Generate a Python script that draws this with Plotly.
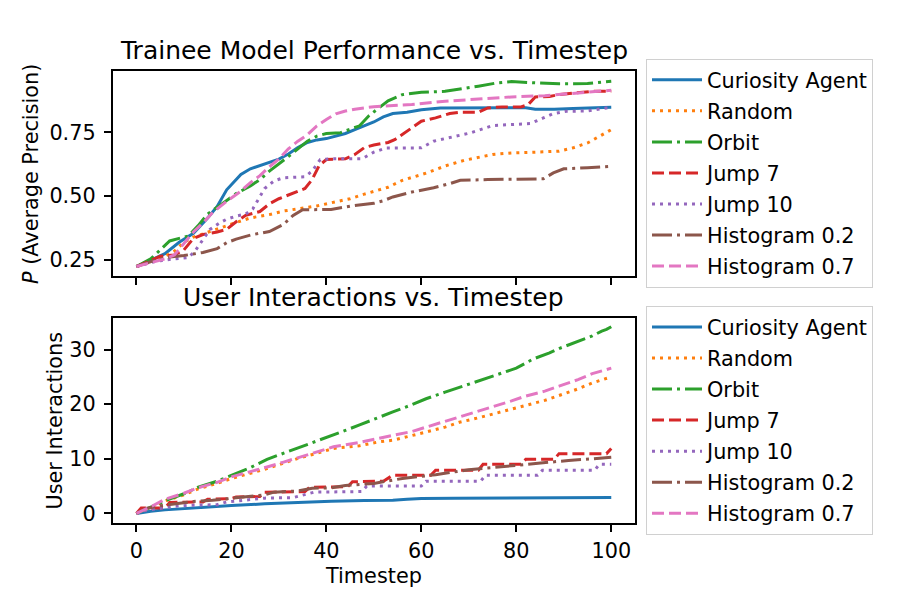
import plotly.graph_objects as go

FONT = "DejaVu Sans"

# ---------------- data ----------------
series_names = ["Curiosity Agent", "Random", "Orbit", "Jump 7", "Jump 10",
                "Histogram 0.2", "Histogram 0.7"]
x_ticks = [0, 20, 40, 60, 80, 100]
prec_ticks = [0.25, 0.50, 0.75]
inter_ticks = [0, 10, 20, 30]

# --- top panel: P (Average Precision) vs timestep ---
prec_curiosity_t = [0, 3, 6, 9, 12, 15, 17, 19, 21, 22, 24, 26, 28, 30, 32, 34, 36, 38, 40, 42, 44, 46, 48, 50, 52, 54, 57, 60, 64, 70, 82, 84, 88, 92, 96, 100]
prec_curiosity_v = [0.225, 0.25, 0.275, 0.32, 0.355, 0.415, 0.46, 0.525, 0.565, 0.585, 0.607, 0.62, 0.63, 0.645, 0.665, 0.69, 0.71, 0.72, 0.725, 0.735, 0.745, 0.76, 0.775, 0.79, 0.81, 0.823, 0.828, 0.838, 0.845, 0.846, 0.846, 0.84, 0.84, 0.843, 0.845, 0.848]

prec_random_t = [0, 3, 6, 8, 10, 12, 15, 18, 21, 24, 28, 31, 35, 38, 42, 45, 48, 51, 53, 56, 61, 65, 69, 75, 79, 84, 89, 92, 95, 97.5, 100]
prec_random_v = [0.225, 0.245, 0.265, 0.285, 0.32, 0.34, 0.36, 0.38, 0.397, 0.415, 0.428, 0.442, 0.452, 0.462, 0.478, 0.49, 0.508, 0.525, 0.535, 0.562, 0.59, 0.618, 0.64, 0.663, 0.669, 0.672, 0.676, 0.689, 0.708, 0.734, 0.76]

prec_orbit_t = [0, 3, 5, 7, 9, 11, 13, 15, 18, 21, 24, 26, 28, 30, 32, 34, 36, 38, 40, 43, 45, 47, 49, 51, 53, 56, 60, 65, 68, 72, 76, 79, 84, 89, 95, 100]
prec_orbit_v = [0.225, 0.255, 0.29, 0.325, 0.335, 0.345, 0.385, 0.43, 0.47, 0.51, 0.54, 0.565, 0.598, 0.625, 0.655, 0.685, 0.715, 0.735, 0.745, 0.748, 0.76, 0.775, 0.815, 0.845, 0.873, 0.897, 0.906, 0.91, 0.918, 0.93, 0.943, 0.948, 0.943, 0.939, 0.94, 0.949]

prec_jump7_t = [0, 3, 5, 8, 10, 12, 14, 17, 19, 21, 23, 26, 28, 30, 32, 34, 35.5, 37, 38.5, 40, 44, 46, 48, 50, 53, 54.5, 56.5, 60, 63, 66, 68, 72, 74, 77, 81, 82.5, 84, 87, 89, 93, 96, 100]
prec_jump7_v = [0.225, 0.25, 0.265, 0.27, 0.29, 0.335, 0.35, 0.36, 0.37, 0.4, 0.425, 0.44, 0.47, 0.49, 0.505, 0.52, 0.53, 0.565, 0.62, 0.643, 0.646, 0.663, 0.69, 0.7, 0.71, 0.722, 0.747, 0.793, 0.806, 0.823, 0.828, 0.828, 0.845, 0.849, 0.849, 0.858, 0.888, 0.89, 0.897, 0.906, 0.91, 0.91]

prec_jump10_t = [0, 4, 8, 11, 12.5, 14, 15.5, 17.5, 19, 21, 23, 24.5, 25.5, 27, 29, 31, 35.5, 37, 38.7, 41, 47.5, 50, 52.5, 60, 62.6, 66.8, 70.3, 75, 79.4, 83, 85.7, 87.8, 90.6, 95, 99, 100]
prec_jump10_v = [0.225, 0.245, 0.255, 0.26, 0.29, 0.33, 0.37, 0.395, 0.41, 0.422, 0.43, 0.45, 0.48, 0.53, 0.56, 0.572, 0.576, 0.598, 0.643, 0.646, 0.646, 0.672, 0.688, 0.689, 0.715, 0.734, 0.747, 0.776, 0.78, 0.784, 0.806, 0.823, 0.832, 0.833, 0.845, 0.845]

prec_hist02_t = [0, 4, 7, 10, 14, 17, 19, 21, 24, 28, 31, 33, 35, 41, 45, 50, 52, 54, 58, 62.6, 66, 68.2, 74, 85.7, 87.8, 90, 95, 100]
prec_hist02_v = [0.225, 0.25, 0.262, 0.268, 0.28, 0.295, 0.318, 0.332, 0.348, 0.362, 0.39, 0.425, 0.447, 0.448, 0.461, 0.472, 0.482, 0.497, 0.516, 0.533, 0.549, 0.562, 0.565, 0.568, 0.591, 0.607, 0.611, 0.617]

prec_hist07_t = [0, 3, 6, 8, 10, 12, 14, 16, 19, 22, 24, 26, 28, 30, 32, 34, 36, 38, 40, 42, 44, 46, 50, 54, 58, 65, 72, 79, 86, 93, 100]
prec_hist07_v = [0.225, 0.24, 0.255, 0.27, 0.315, 0.36, 0.395, 0.435, 0.48, 0.52, 0.553, 0.58, 0.615, 0.645, 0.685, 0.715, 0.74, 0.775, 0.8, 0.822, 0.833, 0.84, 0.85, 0.855, 0.858, 0.871, 0.88, 0.888, 0.893, 0.904, 0.914]

# --- bottom panel: user interactions vs timestep ---
inter_curiosity_t = [0, 3, 6, 10, 13, 20, 27, 34, 41, 48, 54, 57, 60, 67, 77, 100]
inter_curiosity_v = [0, 0.4, 0.65, 0.9, 1.1, 1.45, 1.75, 2.05, 2.25, 2.35, 2.4, 2.6, 2.75, 2.78, 2.85, 2.9]

inter_random_t = [0, 3, 6, 10, 13, 17, 20, 24, 27.5, 31, 34.5, 38, 41.5, 47, 51, 54, 58, 61, 65, 68, 72, 75, 79, 82, 86, 89, 93, 96, 100]
inter_random_v = [0, 1.0, 2.3, 3.4, 4.5, 5.5, 6.4, 7.3, 8.2, 9.2, 10.2, 11.0, 11.9, 12.4, 13.1, 13.4, 14.2, 14.9, 15.8, 16.7, 17.5, 18.2, 19.0, 19.8, 20.7, 21.6, 22.8, 23.9, 25.0]

inter_orbit_t = [0, 3, 6, 10, 13, 17, 20, 24, 27.5, 31, 34.5, 38, 41.5, 44, 47, 51, 54, 58, 61, 65, 68, 72, 75, 78, 80, 83.6, 87, 89, 93, 96, 98, 99, 100]
inter_orbit_v = [0, 1.2, 2.3, 3.6, 4.8, 5.9, 7.0, 8.4, 9.9, 11.0, 12.2, 13.2, 14.3, 15.2, 16.2, 17.6, 18.6, 19.9, 21.0, 22.2, 23.1, 24.2, 25.1, 26.0, 26.6, 28.3, 29.4, 30.2, 31.5, 32.5, 33.4, 33.7, 34.2]

inter_jump7_t = [0, 1, 6, 7, 14, 15, 20, 21, 26, 27, 35.5, 36.5, 44.5, 45.5, 52, 53, 54, 62, 63, 72, 73, 81, 82, 88, 89, 99, 100]
inter_jump7_v = [0, 1.0, 1.0, 2.0, 2.1, 2.6, 2.7, 3.0, 3.1, 3.9, 4.0, 4.8, 4.9, 5.8, 5.9, 6.5, 7.0, 7.0, 7.9, 7.9, 9.0, 9.0, 9.9, 9.9, 10.95, 10.95, 11.9]

inter_jump10_t = [0, 2, 5, 8, 12, 17, 19, 24, 27, 33, 35, 37.5, 47.5, 48.5, 60, 61, 72.5, 73.5, 84.5, 85.5, 96.5, 97.5, 100]
inter_jump10_v = [0, 0.6, 0.9, 1.3, 1.5, 1.6, 2.1, 2.6, 2.8, 2.9, 3.4, 3.9, 4.0, 5.0, 5.0, 5.9, 5.9, 7.0, 7.0, 7.9, 7.9, 9.0, 9.0]

inter_hist02_t = [0, 2, 5, 8, 12, 16, 20, 24, 27, 29, 34, 37, 41, 44, 48, 50, 56, 63, 70, 77, 84, 91, 96, 100]
inter_hist02_v = [0, 0.9, 1.4, 1.8, 2.2, 2.4, 2.8, 3.1, 3.4, 3.9, 4.1, 4.6, 4.7, 5.1, 5.3, 5.5, 6.4, 7.1, 8.0, 8.6, 9.2, 9.7, 10.0, 10.3]

inter_hist07_t = [0, 3, 6, 10, 13, 17, 20, 24, 27.5, 31, 34.5, 38, 41.5, 47, 51, 54, 58, 61, 65, 68, 72, 75, 79, 82, 86, 89, 93, 96, 100]
inter_hist07_v = [0, 1.2, 2.6, 3.7, 4.7, 5.7, 6.7, 7.6, 8.5, 9.4, 10.3, 11.2, 12.2, 13.0, 13.8, 14.3, 15.0, 15.8, 16.8, 17.7, 18.7, 19.5, 20.6, 21.5, 22.4, 23.3, 24.5, 25.6, 26.6]

# ---------------- styling ----------------
colors = ["#1f77b4", "#ff7f0e", "#2ca02c", "#d62728", "#9467bd", "#8c564b", "#e377c2"]
DOT = "3px,5px"
DASH = "12px,5px"
DASHDOT = "20px,5px,3px,5px"
dashes = ["solid", DOT, DASHDOT, DASH, DOT, DASHDOT, DASH]
LW = 3

top_data = [(prec_curiosity_t, prec_curiosity_v), (prec_random_t, prec_random_v),
            (prec_orbit_t, prec_orbit_v), (prec_jump7_t, prec_jump7_v),
            (prec_jump10_t, prec_jump10_v), (prec_hist02_t, prec_hist02_v),
            (prec_hist07_t, prec_hist07_v)]
bot_data = [(inter_curiosity_t, inter_curiosity_v), (inter_random_t, inter_random_v),
            (inter_orbit_t, inter_orbit_v), (inter_jump7_t, inter_jump7_v),
            (inter_jump10_t, inter_jump10_v), (inter_hist02_t, inter_hist02_v),
            (inter_hist07_t, inter_hist07_v)]

fig = go.Figure()
for i, (t, v) in enumerate(top_data):
    fig.add_trace(go.Scatter(x=t, y=v, mode="lines", name=series_names[i],
                             line=dict(color=colors[i], width=LW, dash=dashes[i]),
                             legendgroup="top%d" % i,
                             xaxis="x", yaxis="y", legend="legend"))
for i, (t, v) in enumerate(bot_data):
    fig.add_trace(go.Scatter(x=t, y=v, mode="lines", name=series_names[i],
                             line=dict(color=colors[i], width=LW, dash=dashes[i]),
                             legendgroup="bot%d" % i,
                             xaxis="x2", yaxis="y2", legend="legend2"))

W, H = 900, 600
L, R = 112.7, 635.0
TOP1, BOT1 = 71.7, 277.3
TOP2, BOT2 = 319.0, 525.0

axis_common = dict(showgrid=False, zeroline=False, showline=True, linecolor="black",
                   linewidth=1.7, mirror=True, ticks="outside", ticklen=7,
                   tickwidth=1.7, tickcolor="black",
                   tickfont=dict(family=FONT, size=20.8, color="black"))

legend_common = dict(xanchor="left", yanchor="top", bordercolor="#d0d0d0",
                     borderwidth=1, bgcolor="white", tracegroupgap=1,
                     font=dict(family=FONT, size=20.8, color="black"), itemwidth=50)

fig.update_layout(
    width=W, height=H, margin=dict(l=0, r=0, t=0, b=0),
    paper_bgcolor="white", plot_bgcolor="white",
    font=dict(family=FONT, size=20.8, color="black"),
    xaxis=dict(domain=[L / W, R / W], anchor="y", range=[-5, 105],
               tickvals=x_ticks, showticklabels=False, **axis_common),
    yaxis=dict(domain=[1 - BOT1 / H, 1 - TOP1 / H], anchor="x", range=[0.1865, 0.9875],
               tickvals=prec_ticks, tickformat=".2f", ticklabelstandoff=4, **axis_common),
    xaxis2=dict(domain=[L / W, R / W], anchor="y2", range=[-5, 105],
                tickvals=x_ticks, ticklabelstandoff=1, **axis_common),
    yaxis2=dict(domain=[1 - BOT2 / H, 1 - TOP2 / H], anchor="x2", range=[-1.8, 35.8],
                tickvals=inter_ticks, ticklabelstandoff=4, **axis_common),
    legend=dict(x=646 / W, y=1 - 59 / H, **legend_common),
    legend2=dict(x=646 / W, y=1 - 307 / H, **legend_common),
    showlegend=True,
)

ann_font = dict(family=FONT, size=20.8, color="black")
fig.add_annotation(text="Trainee Model Performance vs. Timestep", xref="paper", yref="paper",
                   x=(L + R) / 2 / W, y=1 - 51 / H, xanchor="center", yanchor="middle",
                   showarrow=False, font=dict(family=FONT, size=25, color="black"))
fig.add_annotation(text="User Interactions vs. Timestep", xref="paper", yref="paper",
                   x=(L + R) / 2 / W, y=1 - 298 / H, xanchor="center", yanchor="middle",
                   showarrow=False, font=dict(family=FONT, size=25, color="black"))
fig.add_annotation(text="<i>P</i> (Average Precision)", xref="paper", yref="paper",
                   x=31 / W, y=1 - (TOP1 + BOT1) / 2 / H, xanchor="center", yanchor="middle",
                   textangle=-90, showarrow=False, font=ann_font)
fig.add_annotation(text="User Interactions", xref="paper", yref="paper",
                   x=55 / W, y=1 - (TOP2 + BOT2) / 2 / H, xanchor="center", yanchor="middle",
                   textangle=-90, showarrow=False, font=ann_font)
fig.add_annotation(text="Timestep", xref="paper", yref="paper",
                   x=(L + R) / 2 / W, y=1 - 578 / H, xanchor="center", yanchor="middle",
                   showarrow=False, font=ann_font)

fig.write_html("out.html")
